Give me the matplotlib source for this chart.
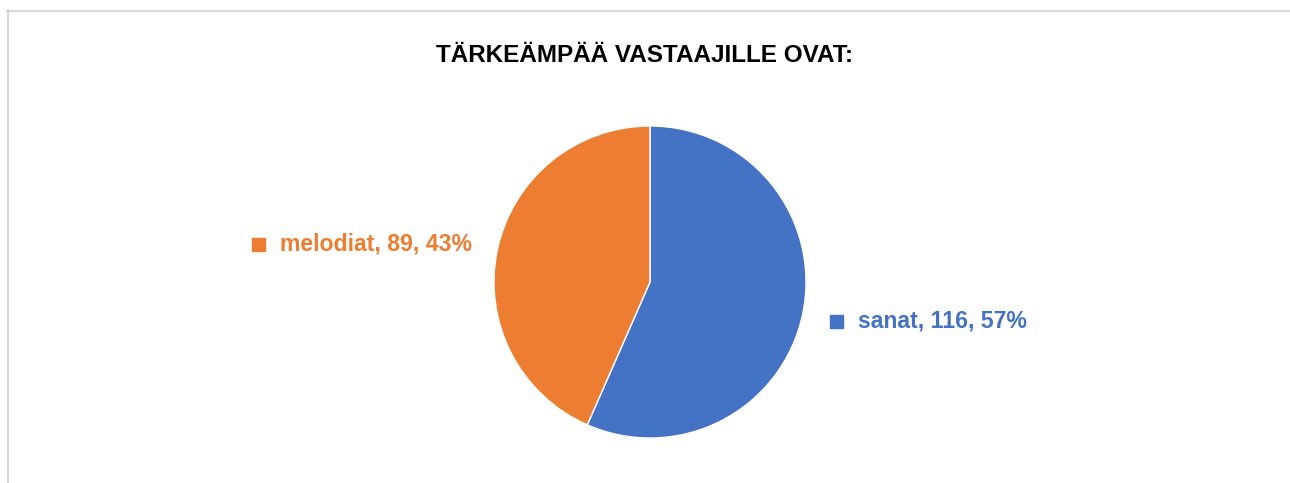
import matplotlib.pyplot as plt
from matplotlib.lines import Line2D
from matplotlib.patches import Rectangle

vastaukset = ['sanat', 'melodiat']
maarat = [116, 89]
varit = ['#4472C4', '#ED7D31']
otsikko = 'TÄRKEÄMPÄÄ VASTAAJILLE OVAT:'

W, H = 1290, 483
fig = plt.figure(figsize=(W / 100, H / 100), dpi=100)
fig.patch.set_facecolor('white')

def fx(px):
    return px / W

def fy(py):
    return 1 - py / H

# kehys (vasen ja ylä)
fig.add_artist(Line2D([fx(7.5), fx(7.5)], [fy(10), 0], color='#d9d9d9', lw=1.5,
                      transform=fig.transFigure))
fig.add_artist(Line2D([fx(7), 1], [fy(10.5), fy(10.5)], color='#d9d9d9', lw=1.5,
                      transform=fig.transFigure))

# piirakka
cx, cy, r = 650, 282, 156
ax = fig.add_axes([fx(cx - r), fy(cy + r), fx(2 * r), (2 * r) / H])
ax.pie(maarat, colors=varit, startangle=90, counterclock=False,
       wedgeprops={'edgecolor': 'white', 'linewidth': 1})
ax.set_xlim(-1, 1)
ax.set_ylim(-1, 1)
ax.set_aspect('equal')
ax.axis('off')

fig.text(0.5, fy(56), otsikko, ha='center', va='center', fontsize=17.5,
         fontweight='bold', family='Liberation Sans', color='black')

yht = sum(maarat)
paikat = [(830, 321), (252, 244)]
for nimi, arvo, vari, (px, py) in zip(vastaukset, maarat, varit, paikat):
    pros = round(arvo / yht * 100)
    fig.add_artist(Rectangle((fx(px), fy(py + 6.5)), fx(13), 13 / H, color=vari,
                             transform=fig.transFigure))
    fig.text(fx(px + 28), fy(py), f'{nimi}, {arvo}, {pros}%', ha='left', va='center',
             fontsize=16.6, fontweight='bold', family='Liberation Sans', color=vari)

fig.savefig('out.png', dpi=100)
